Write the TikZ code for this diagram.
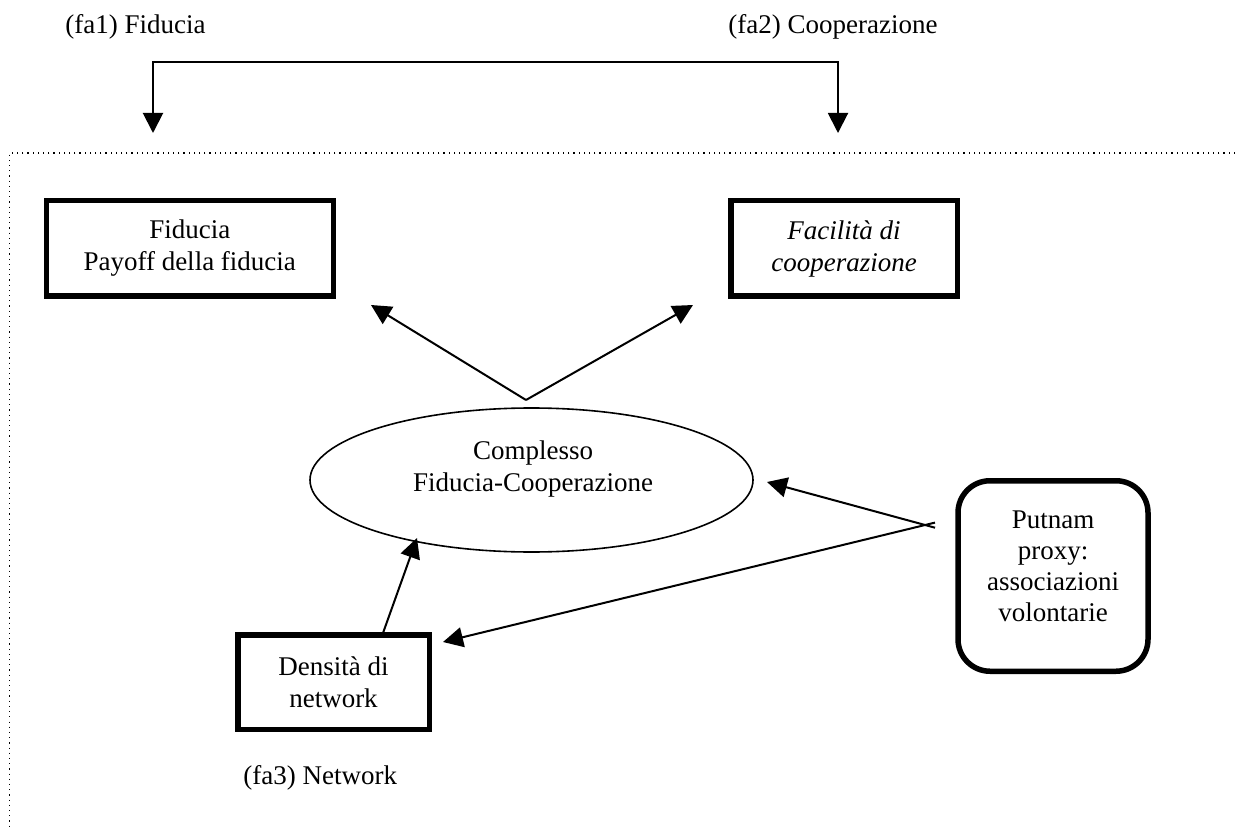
\documentclass[tikz,border=0pt]{standalone}
\usepackage{fontspec}
\setmainfont{Liberation Serif}
\usetikzlibrary{arrows.meta,shapes.geometric}
\begin{document}
\begin{tikzpicture}[x=0.5pt,y=-0.5pt,
 tip/.tip={Triangle[length=10pt,width=10pt]},
 arr/.style={-tip, line width=1pt},
 txt/.style={font=\fontsize{13.5}{16}\selectfont},
 thickbox/.style={draw, line width=2.75pt, inner sep=0pt, align=center, txt},
 lbl/.style={txt, align=center, inner sep=0pt},
 framestyle/.style={dotted, line width=0.6pt}]
\useasboundingbox (0,0) rectangle (1235,828);
% frame
\draw[framestyle] (1235,153) -- (9.5,153) -- (9.5,828);
% outer labels
\node[lbl, anchor=west] (fa1) at (65,27) {(fa1) Fiducia};
\node[lbl, anchor=west] (fa2) at (728,27) {(fa2) Cooperazione};
\node[lbl, anchor=west] (fa3) at (243,778) {(fa3) Network};
% boxes
\node[thickbox, minimum width=143.5pt, minimum height=47.75pt] (fid) at (189.75,248.5) {Fiducia\\Payoff della fiducia};
\node[thickbox, minimum width=113.25pt, minimum height=47.75pt] (fac) at (844,248.5) {\itshape Facilità di\\\itshape cooperazione};
\node[thickbox, minimum width=95.75pt, minimum height=47.25pt] (dens) at (333.5,682) {Densità di\\network};
\node[draw, line width=2.75pt, rounded corners=16pt, minimum width=95pt, minimum height=95.25pt] (put) at (1053,576) {};
\node[lbl, font=\fontsize{13.5}{15.5}\selectfont] (puttext) at (1053,566.5) {Putnam\\proxy:\\associazioni\\volontarie};
% ellipse
\node[ellipse, draw, line width=0.8pt, minimum width=221.5pt, minimum height=72pt, inner sep=0pt] (ell) at (531.5,480) {};
\node[lbl] (elltext) at (533,469) {Complesso\\Fiducia-Cooperazione};
% coordinates
\coordinate (t1) at (153,133);
\coordinate (t2) at (838,133);
\coordinate (c1) at (153,62);
\coordinate (c2) at (838,62);
\coordinate (v) at (526,400);
\coordinate (vl) at (371,305);
\coordinate (vr) at (693,305);
\coordinate (p1) at (935,527.7);
\coordinate (p2) at (935,522.6);
\coordinate (e1) at (767,482);
\coordinate (d1) at (443,642);
\coordinate (ds) at (383,633);
\coordinate (eb) at (417,538);
% connectors
\draw[tip-tip, line width=1pt] (t1) -- (c1) -- (c2) -- (t2);
\draw[arr] (v) -- (vl);
\draw[arr] (v) -- (vr);
\draw[arr] (p1) -- (e1);
\draw[arr] (p2) -- (d1);
\draw[arr] (ds) -- (eb);
\end{tikzpicture}
\end{document}
